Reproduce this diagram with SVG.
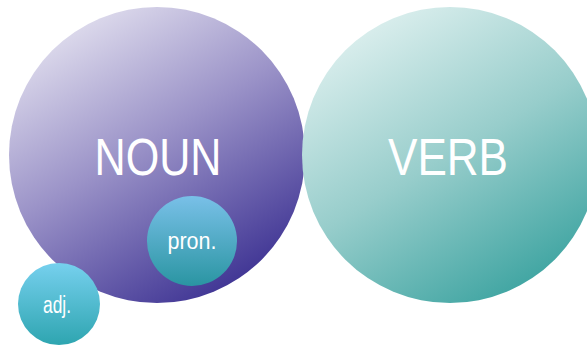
<svg xmlns="http://www.w3.org/2000/svg" width="587" height="348" viewBox="0 0 587 348">
<defs>
<linearGradient id="gNoun" x1="0.2" y1="0" x2="0.8" y2="1">
<stop offset="0" stop-color="#e6e4f1"/>
<stop offset="0.45" stop-color="#9b93c8"/>
<stop offset="1" stop-color="#352a8e"/>
</linearGradient>
<linearGradient id="gVerb" x1="0.2" y1="0" x2="0.8" y2="1">
<stop offset="0" stop-color="#e2f2f1"/>
<stop offset="0.5" stop-color="#97cdcb"/>
<stop offset="1" stop-color="#35a09d"/>
</linearGradient>
<linearGradient id="gPron" x1="0" y1="0" x2="0" y2="1">
<stop offset="0" stop-color="#79c0e8"/>
<stop offset="1" stop-color="#2a95a2"/>
</linearGradient>
<linearGradient id="gAdj" x1="0" y1="0" x2="0" y2="1">
<stop offset="0" stop-color="#76d0ee"/>
<stop offset="1" stop-color="#2ea5b0"/>
</linearGradient>
</defs>
<style>
text { font-family: "Liberation Sans", Arial, sans-serif; fill: #ffffff; text-anchor: middle; }
</style>
<rect width="587" height="348" fill="#ffffff"/>
<g id="connectors"/>
<g id="noun">
<circle cx="157" cy="155" r="148" fill="url(#gNoun)"/>
<text x="158" y="175" font-size="52" textLength="127" lengthAdjust="spacingAndGlyphs">NOUN</text>
</g>
<g id="verb">
<circle cx="450" cy="155" r="148" fill="url(#gVerb)"/>
<text x="448" y="175" font-size="52" textLength="120" lengthAdjust="spacingAndGlyphs">VERB</text>
</g>
<g id="pron">
<circle cx="192" cy="241" r="45" fill="url(#gPron)"/>
<text x="192" y="249" font-size="24" textLength="49" lengthAdjust="spacingAndGlyphs">pron.</text>
</g>
<g id="adj">
<circle cx="59" cy="304" r="41" fill="url(#gAdj)"/>
<text x="57" y="313" font-size="23" textLength="28" lengthAdjust="spacingAndGlyphs">adj.</text>
</g>
</svg>
